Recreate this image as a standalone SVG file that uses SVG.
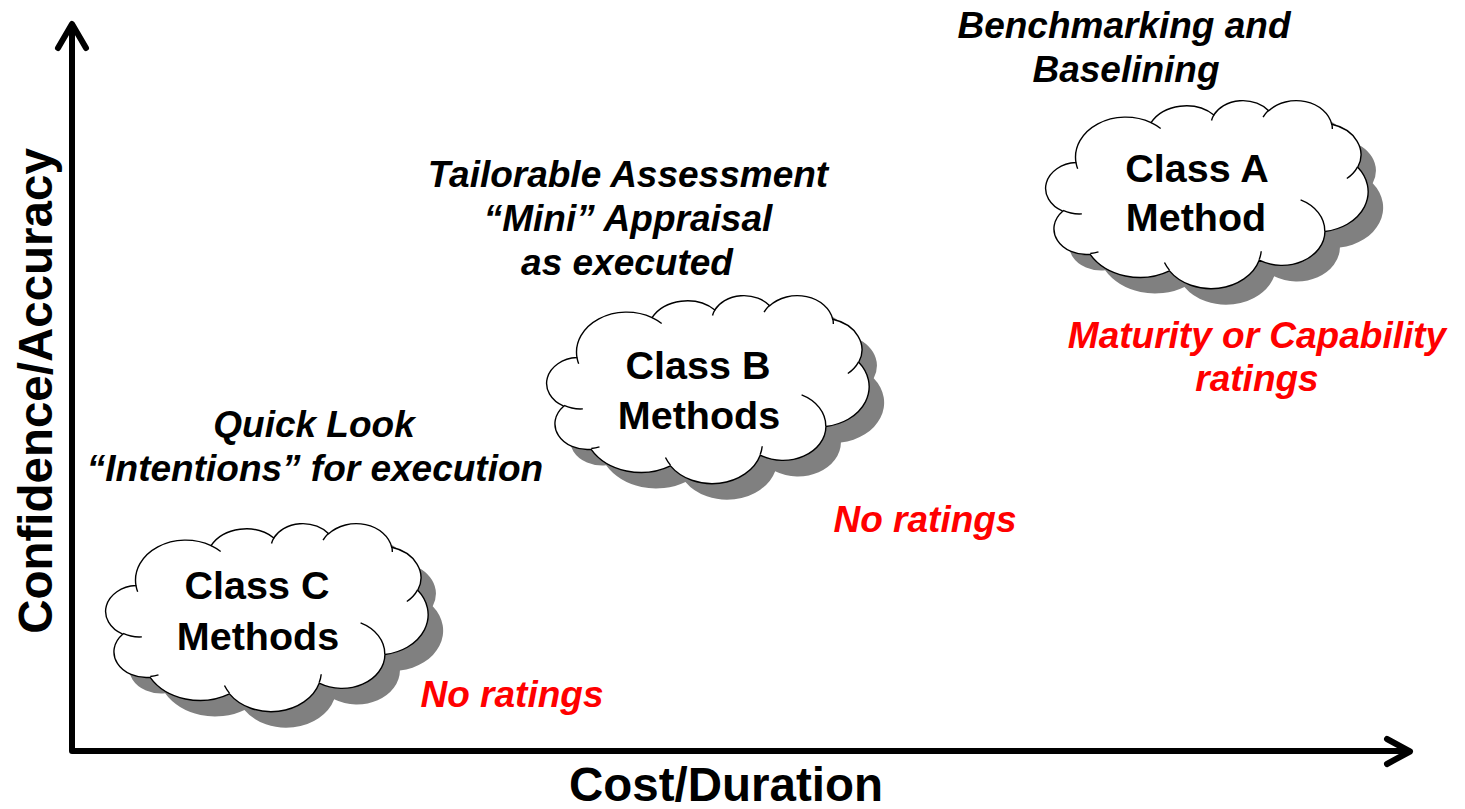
<svg xmlns="http://www.w3.org/2000/svg" xmlns:xlink="http://www.w3.org/1999/xlink" width="1465" height="809" viewBox="0 0 1465 809">
<style>
.axis{fill:none;stroke:#000;stroke-width:6;stroke-linecap:round;stroke-linejoin:round}
.cloud{fill:#fff;stroke:#000;stroke-width:1.4}
.shadow{fill:#808080;stroke:none}
.inner{fill:none;stroke:#000;stroke-width:1.4}
.lbl{font-family:"Liberation Sans",Arial,sans-serif;font-weight:bold;font-size:39.5px;fill:#000;text-anchor:middle}
.ax{font-family:"Liberation Sans",Arial,sans-serif;font-weight:bold;font-size:47.5px;fill:#000;text-anchor:middle}
.it{font-family:"Liberation Sans",Arial,sans-serif;font-weight:bold;font-style:italic;font-size:37px;fill:#000;text-anchor:middle}
.red{fill:#ff0000}
</style>
<defs>
<path id="cloudShape" d="M 28.98 62.54 A 50.18 39.99 0 0 1 104.07 22.64 A 39.63 31.63 0 0 1 166.86 14.94 A 32.43 25.87 0 0 1 221.67 10.79 A 36.09 28.70 0 0 1 284.72 24.27 A 39.63 31.65 0 0 1 310.73 67.28 A 50.34 40.12 0 0 1 277.93 131.44 A 42.99 34.24 0 0 1 212.19 160.21 A 50.17 40.10 0 0 1 122.46 170.88 A 57.36 45.88 0 0 1 43.13 154.37 A 32.40 25.75 0 0 1 15.70 111.19 A 32.29 25.87 0 0 1 28.98 62.54 Z"/>
<path id="cloudInner" d="M 34.87 113.92 A 32.29 25.87 0 0 1 16.05 110.45 M 51.48 151.88 A 32.40 25.75 0 0 1 43.25 153.54 M 122.44 170.11 A 50.17 40.10 0 0 1 117.47 162.53 M 214.21 151.23 A 50.17 40.10 0 0 1 212.22 159.54 M 253.60 99.89 A 42.99 34.24 0 0 1 277.76 130.94 M 310.59 66.82 A 39.63 31.65 0 0 1 299.82 78.47 M 284.77 23.61 A 36.09 28.70 0 0 1 285.34 29.11 M 216.07 17.20 A 36.09 28.70 0 0 1 221.58 10.18 M 164.52 20.54 A 32.43 25.87 0 0 1 167.19 14.49 M 104.03 22.59 A 50.18 39.99 0 0 1 113.68 28.46 M 30.67 68.71 A 50.18 39.99 0 0 1 28.98 62.54"/>
</defs>
<rect width="1465" height="809" fill="#fff"/>
<g id="axes">
<polyline class="axis" points="72,26 72,751 1408,751"/>
<polyline class="axis" points="58,48 72,24 86,48"/>
<polyline class="axis" points="1387,739 1410,751.5 1387,764"/>
<text class="ax" x="726" y="801">Cost/Duration</text>
<text class="ax" transform="translate(52,391) rotate(-90)">Confidence/Accuracy</text>
</g>
<g id="connectors"></g>
<g id="classC">
<use href="#cloudShape" class="shadow" transform="translate(122,539)"/>
<use href="#cloudShape" class="cloud" transform="translate(107,523)"/>
<use href="#cloudInner" class="inner" transform="translate(107,523)"/>
<text class="lbl" x="257" y="599">Class C</text>
<text class="lbl" x="258" y="650">Methods</text>
</g>
<g id="classB">
<use href="#cloudShape" class="shadow" transform="translate(563,311)"/>
<use href="#cloudShape" class="cloud" transform="translate(548,295)"/>
<use href="#cloudInner" class="inner" transform="translate(548,295)"/>
<text class="lbl" x="698" y="379">Class B</text>
<text class="lbl" x="699" y="429">Methods</text>
</g>
<g id="classA">
<use href="#cloudShape" class="shadow" transform="translate(1062,116)"/>
<use href="#cloudShape" class="cloud" transform="translate(1047,100)"/>
<use href="#cloudInner" class="inner" transform="translate(1047,100)"/>
<text class="lbl" x="1197" y="182">Class A</text>
<text class="lbl" x="1196" y="231">Method</text>
</g>
<g id="labelC">
<text class="it" x="314" y="437">Quick Look</text>
<text class="it" x="315" y="481">“Intentions” for execution</text>
<text class="it red" x="512" y="707">No ratings</text>
</g>
<g id="labelB">
<text class="it" x="628" y="187">Tailorable Assessment</text>
<text class="it" x="628" y="231">“Mini” Appraisal</text>
<text class="it" x="627" y="275">as executed</text>
<text class="it red" x="925" y="532">No ratings</text>
</g>
<g id="labelA">
<text class="it" x="1124" y="38">Benchmarking and</text>
<text class="it" x="1126" y="82">Baselining</text>
<text class="it red" x="1257" y="348">Maturity or Capability</text>
<text class="it red" x="1257" y="391">ratings</text>
</g>
</svg>
